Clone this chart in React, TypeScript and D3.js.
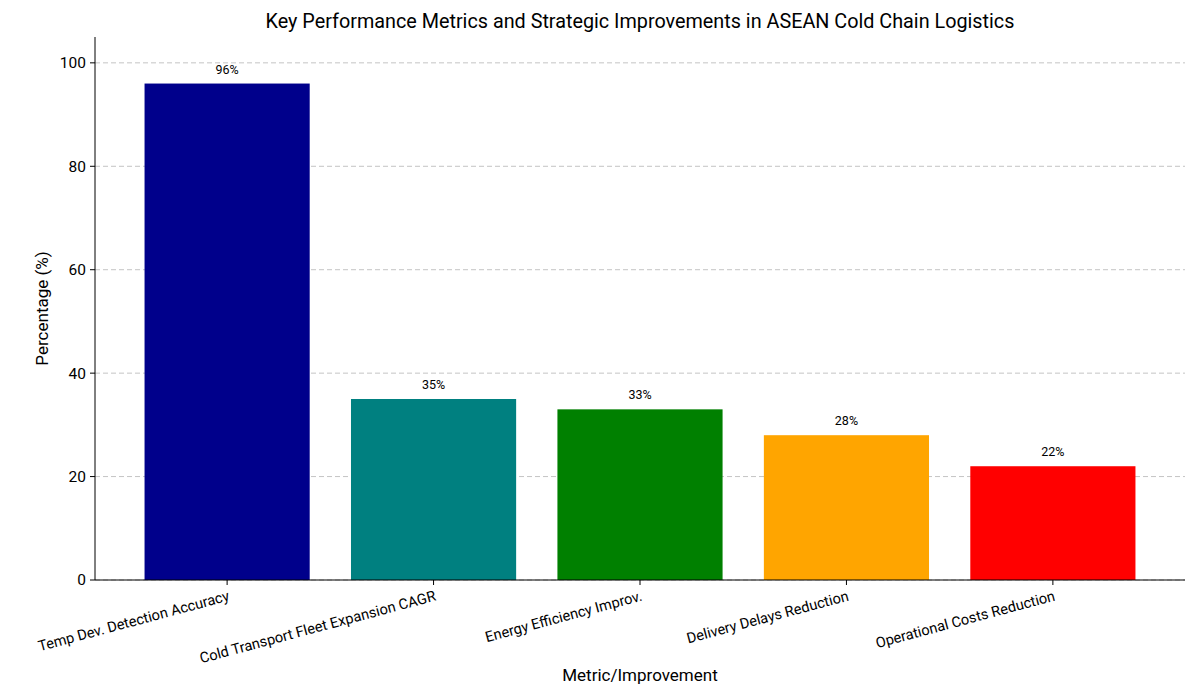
import React from "react";
import * as d3 from "d3";

const categories = [
  "Temp Dev. Detection Accuracy",
  "Cold Transport Fleet Expansion CAGR",
  "Energy Efficiency Improv.",
  "Delivery Delays Reduction",
  "Operational Costs Reduction",
];
const values = [96, 35, 33, 28, 22];
const colors = ["#00008b", "#008080", "#008000", "#ffa500", "#ff0000"];
const yTicks = [0, 20, 40, 60, 80, 100];

const W = 1200;
const H = 700;
const left = 95;
const right = 1185;
const top = 37;
const bottom = 580;
const FONT = "Roboto, 'DejaVu Sans', sans-serif";

export default function App() {
  const x = d3.scaleLinear().domain([-0.64, 4.64]).range([left, right]);
  const y = d3.scaleLinear().domain([0, 105]).range([bottom, top]);
  const bw = x(0.4) - x(-0.4);

  return (
    <svg width={W} height={H} style={{ position: "absolute", left: 0, top: 0, background: "#fff" }} fontFamily={FONT}>
      <rect x={0} y={0} width={W} height={H} fill="#fff" />
      {yTicks.map((t) => (
        <line key={"g" + t} x1={left} x2={right} y1={y(t)} y2={y(t)} stroke="#c4c4c4" strokeWidth={1} strokeDasharray="5,3" />
      ))}
      {values.map((v, i) => (
        <g key={i}>
          <rect x={x(i) - bw / 2} y={y(v)} width={bw} height={y(0) - y(v)} fill={colors[i]} />
          <text x={x(i)} y={y(v) - 10} textAnchor="middle" fontSize={12.5} fill="#000">{v}%</text>
        </g>
      ))}
      <line x1={left} x2={left} y1={top} y2={bottom} stroke="#000" strokeWidth={1} />
      <line x1={left} x2={right} y1={bottom} y2={bottom} stroke="#000" strokeWidth={1} />
      {yTicks.map((t) => (
        <g key={"t" + t}>
          <line x1={left - 5} x2={left} y1={y(t)} y2={y(t)} stroke="#000" />
          <text x={left - 9} y={y(t)} dy="0.35em" textAnchor="end" fontSize={15.5} fill="#000">{t}</text>
        </g>
      ))}
      {categories.map((c, i) => (
        <g key={"c" + i}>
          <line x1={x(i)} x2={x(i)} y1={bottom} y2={bottom + 5} stroke="#000" />
          <text transform={`translate(${x(i)},${bottom + 9}) rotate(-15)`} textAnchor="end" dy="0.8em" fontSize={14.6} fill="#000">{c}</text>
        </g>
      ))}
      <text x={(left + right) / 2} y={28} textAnchor="middle" fontSize={19.8} fill="#000">
        Key Performance Metrics and Strategic Improvements in ASEAN Cold Chain Logistics
      </text>
      <text x={(left + right) / 2} y={681} textAnchor="middle" fontSize={17} fill="#000">Metric/Improvement</text>
      <text transform={`translate(48,${(top + bottom) / 2}) rotate(-90)`} textAnchor="middle" fontSize={17} fill="#000">Percentage (%)</text>
    </svg>
  );
}
